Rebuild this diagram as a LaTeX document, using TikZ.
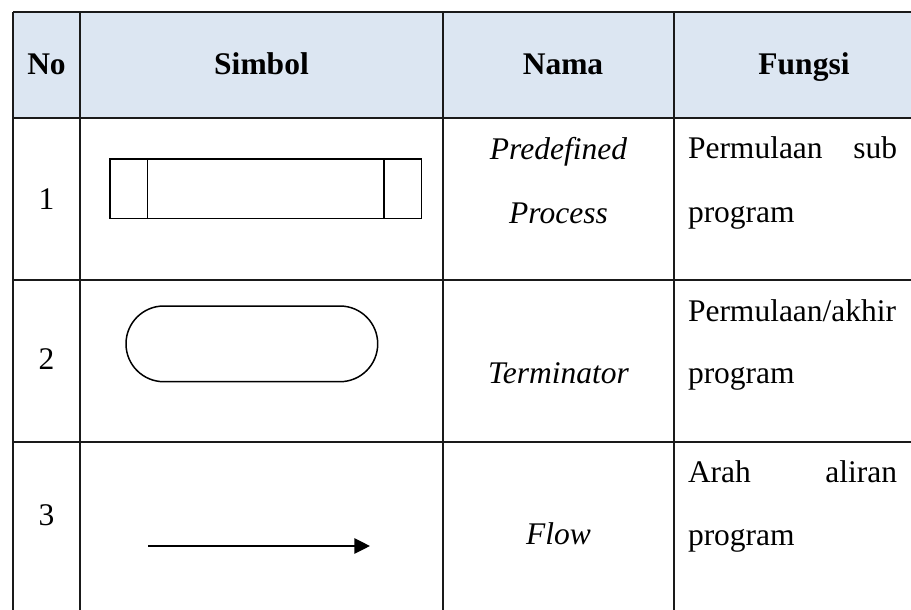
\documentclass[tikz,border=0pt]{standalone}
\usepackage{fontspec}
\setmainfont{Liberation Serif}
\usetikzlibrary{arrows.meta}
\definecolor{hdrfill}{HTML}{DCE6F2}
\definecolor{gridcol}{HTML}{1A1A1A}
\begin{document}
\begin{tikzpicture}[x=0.5pt,y=-0.5pt,
  every node/.style={inner sep=0pt, outer sep=0pt, font=\fontsize{15.75}{18}\selectfont},
  gridline/.style={draw=gridcol, line width=0.75pt},
  hd/.style={anchor=base, font=\fontsize{15.75}{18}\selectfont\bfseries},
  nm/.style={anchor=base, font=\fontsize{15.75}{18}\selectfont\itshape},
  fn/.style={anchor=base west},
  num/.style={anchor=base},
  symb/.style={draw=black, line width=0.75pt}
]
\useasboundingbox (0,0) rectangle (911,610);
\clip (0,0) rectangle (911,610);
% header fill
\fill[hdrfill] (13,12) rectangle (934,118);
% grid
\draw[gridline] (13,12) -- (934,12);
\draw[gridline] (13,118) -- (934,118);
\draw[gridline] (13,280) -- (934,280);
\draw[gridline] (13,442) -- (934,442);
\draw[gridline] (13,12) -- (13,620);
\draw[gridline] (80,12) -- (80,620);
\draw[gridline] (443,12) -- (443,620);
\draw[gridline] (674,12) -- (674,620);
% header
\node[hd] (hno) at (46.5,75) {No};
\node[hd] (hsim) at (261.5,75) {Simbol};
\node[hd] (hnama) at (563,75) {Nama};
\node[hd] (hfun) at (804,75) {Fungsi};
% numbers
\node[num] (n1) at (46.5,209) {1};
\node[num] (n2) at (46.5,369) {2};
\node[num] (n3) at (46.5,525) {3};
% symbols
\node[symb, minimum width=155.85pt, minimum height=29.65pt] (pp) at (265.85,188.65) {};
\draw[symb] ([xshift=18.85pt]pp.north west) -- ([xshift=18.85pt]pp.south west);
\draw[symb] ([xshift=-18.85pt]pp.north east) -- ([xshift=-18.85pt]pp.south east);
\node[symb, minimum width=125.85pt, minimum height=37.85pt, rounded corners=18.9pt] (term) at (251.85,343.85) {};
\coordinate (fa) at (148,546);
\coordinate (fb) at (370,546);
\draw[black, line width=0.75pt, -{Triangle[length=7.85pt,width=7.7pt]}] (fa) -- (fb);
% nama
\node[nm] (nm1a) at (558.5,160) {Predefined};
\node[nm] (nm1b) at (558.5,223) {Process};
\node[nm] (nm2) at (558.5,383) {Terminator};
\node[nm] (nm3) at (558.5,544) {Flow};
% fungsi
\node[fn] (f1a) at (688,159) {\makebox[104.5pt][s]{Permulaan sub}};
\node[fn] (f1b) at (688,222) {program};
\node[fn] (f2a) at (688,321) {Permulaan/akhir};
\node[fn] (f2b) at (688,383) {program};
\node[fn] (f3a) at (688,482) {\makebox[104.5pt][s]{Arah aliran}};
\node[fn] (f3b) at (688,545) {program};
\end{tikzpicture}
\end{document}
